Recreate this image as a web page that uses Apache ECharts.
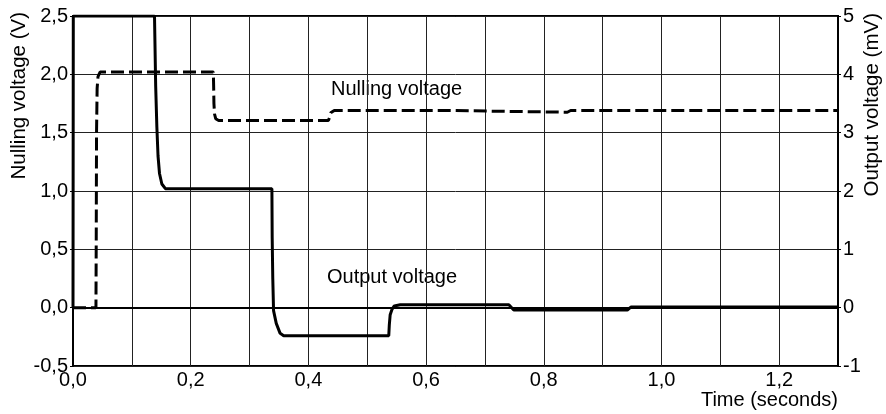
<!DOCTYPE html>
<html>
<head>
<meta charset="utf-8">
<script src="https://cdn.jsdelivr.net/npm/echarts@6/dist/echarts.min.js"></script>
<style>
  html, body { margin: 0; padding: 0; background: #fff; }
  #chart { width: 886px; height: 414px; }
</style>
</head>
<body>
<div id="chart"></div>
<script>
// Nulling voltage (V), left axis
var nullTime = [0, 0.039, 0.0395, 0.040, 0.041, 0.0425, 0.046,
  0.2385, 0.239, 0.2395, 0.2405, 0.2425, 0.2475,
  0.434, 0.436, 0.438, 0.441, 0.444,
  0.640, 0.6425, 0.840, 0.8457, 1.3];
var nullVolt = [0, 0, 0.6, 1.5, 1.88, 1.98, 2.02,
  2.02, 1.9, 1.75, 1.66, 1.62, 1.605,
  1.605, 1.63, 1.67, 1.685, 1.69,
  1.69, 1.675, 1.675, 1.69, 1.69];

// Output voltage (mV), right axis
var outTime = [0, 0.0005, 0.1385, 0.1405, 0.1425, 0.1445, 0.147, 0.151, 0.157,
  0.338, 0.3385, 0.3395, 0.3408, 0.3454, 0.352, 0.358,
  0.5366, 0.5375, 0.539, 0.542, 0.546, 0.556,
  0.7407, 0.749, 0.942, 0.948, 1.3];
var outVolt = [0, 5, 5, 3.8, 3.1, 2.6, 2.3, 2.12, 2.04,
  2.04, 1.2, 0.5, -0.05, -0.27, -0.44, -0.48,
  -0.48, -0.3, -0.12, -0.03, 0.03, 0.05,
  0.05, -0.04, -0.04, 0.01, 0.01];

var font = 'Liberation Sans';

function zip(t, v) {
  return t.map(function (x, i) { return [x, v[i]]; });
}
function comma(v, d) {
  return v.toFixed(d).replace('.', ',');
}

var myChart = echarts.init(document.getElementById('chart'));

var option = {
  animation: false,
  backgroundColor: '#fff',
  grid: {
    left: 73, right: 48, top: 16, bottom: 48,
    outerBoundsMode: 'none',
    show: true, borderColor: '#000', borderWidth: 2
  },
  xAxis: {
    type: 'value', min: 0, max: 1.3, interval: 0.1,
    axisLine: { show: true, lineStyle: { color: '#000', width: 2 } },
    axisTick: { show: false },
    axisLabel: {
      margin: 4, color: '#000', fontFamily: font, fontSize: 20,
      formatter: function (v) {
        var k = Math.round(v * 10);
        return k % 2 === 0 ? comma(k / 10, 1) : '';
      }
    },
    splitLine: { show: true, lineStyle: { color: '#222', width: 1 } }
  },
  yAxis: [
    {
      type: 'value', min: -0.5, max: 2.5, interval: 0.5, position: 'left',
      axisLine: { show: true, lineStyle: { color: '#000', width: 2 } },
      axisTick: { show: true, inside: false, length: 3, lineStyle: { color: '#000' } },
      axisLabel: {
        margin: 5, color: '#000', fontFamily: font, fontSize: 20,
        formatter: function (v) { return comma(v, 1); }
      },
      splitLine: { show: true, lineStyle: { color: '#222', width: 1 } }
    },
    {
      type: 'value', min: -1, max: 5, interval: 1, position: 'right',
      axisLine: { show: true, lineStyle: { color: '#000', width: 2 } },
      axisTick: { show: true, inside: false, length: 3, lineStyle: { color: '#000' } },
      axisLabel: {
        margin: 5, color: '#000', fontFamily: font, fontSize: 20
      },
      splitLine: { show: false }
    }
  ],
  series: [
    {
      name: 'Nulling voltage',
      type: 'line', yAxisIndex: 0, showSymbol: false, z: 3,
      lineStyle: { color: '#000', width: 3, type: [13, 5] },
      data: zip(nullTime, nullVolt)
    },
    {
      name: 'Output voltage',
      type: 'line', yAxisIndex: 1, showSymbol: false, z: 4,
      lineStyle: { color: '#000', width: 3 },
      data: zip(outTime, outVolt)
    }
  ],
  graphic: [
    {
      type: 'text', x: 19, y: 12, rotation: Math.PI / 2,
      style: { text: 'Nulling voltage (V)', fill: '#000', font: '20.5px "Liberation Sans"', align: 'right', verticalAlign: 'middle' }
    },
    {
      type: 'text', x: 872.5, y: 13, rotation: Math.PI / 2,
      style: { text: 'Output voltage (mV)', fill: '#000', font: '20.5px "Liberation Sans"', align: 'right', verticalAlign: 'middle' }
    },
    {
      type: 'text', x: 838, y: 400,
      style: { text: 'Time (seconds)', fill: '#000', font: '20px "Liberation Sans"', align: 'right', verticalAlign: 'middle' }
    },
    {
      type: 'text', x: 331, y: 89,
      style: { text: 'Nulling voltage', fill: '#000', font: '20px "Liberation Sans"', align: 'left', verticalAlign: 'middle' }
    },
    {
      type: 'text', x: 327, y: 277,
      style: { text: 'Output voltage', fill: '#000', font: '20px "Liberation Sans"', align: 'left', verticalAlign: 'middle' }
    }
  ]
};

myChart.setOption(option);
</script>
</body>
</html>
